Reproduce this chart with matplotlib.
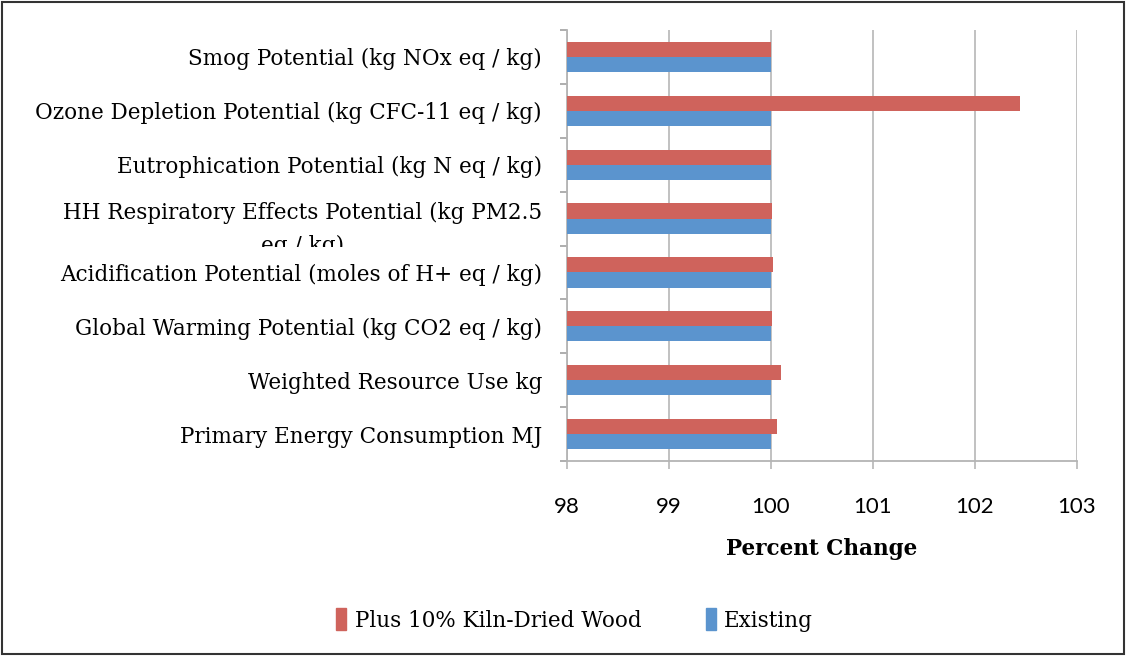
import matplotlib.pyplot as plt
import numpy as np
from matplotlib.patches import Rectangle, Patch
from matplotlib.transforms import Bbox, TransformedBbox, ScaledTranslation

plt.rcParams['font.family'] = ['DejaVu Serif']

categories = [
    "Smog Potential (kg NOx eq / kg)",
    "Ozone Depletion Potential (kg CFC-11 eq / kg)",
    "Eutrophication Potential (kg N eq / kg)",
    "HH Respiratory Effects Potential (kg PM2.5\neq / kg)",
    "Acidification Potential (moles of H+ eq / kg)",
    "Global Warming Potential (kg CO2 eq / kg)",
    "Weighted Resource Use kg",
    "Primary Energy Consumption MJ",
]
kiln_dried = [100.0, 102.44, 100.0, 100.013, 100.02, 100.013, 100.095, 100.06]
existing = [100.0, 100.0, 100.0, 100.0, 100.0, 100.0, 100.0, 100.0]
xticks = [98, 99, 100, 101, 102, 103]

red = "#CF635C"
blue = "#5B94CE"
fs = 15.5

fig = plt.figure(figsize=(11.27, 6.56), dpi=100)
ax = fig.add_axes([567 / 1127, 1 - 461 / 656, 510 / 1127, 431 / 656])

pos = np.arange(len(categories))
h = 0.28
ax.barh(pos - h / 2, np.array(kiln_dried) - 98, left=98, height=h, color=red, zorder=3)
ax.barh(pos + h / 2, np.array(existing) - 98, left=98, height=h, color=blue, zorder=3)

ax.set_xlim(98, 103)
ax.set_ylim(len(categories) - 0.5, -0.5)
ax.set_xticks(xticks)
ax.set_xticklabels([str(t) for t in xticks], fontsize=16, family='Lato')
ax.tick_params(axis='x', length=6, width=1.3, pad=20, color='#bcbcbc', direction='out')
ax.xaxis.grid(True, color='#bcbcbc', linewidth=1.3, zorder=0)

ax.set_yticks(np.arange(len(categories) + 1) - 0.5, minor=True)
ax.set_yticks(pos)
ax.set_yticklabels(categories, fontsize=fs, multialignment='center', linespacing=1.65)
ax.tick_params(axis='y', which='major', length=0, pad=18)
ax.tick_params(axis='y', which='minor', length=5, width=1.3, color='#a8a8a8')

for s in ['top', 'right']:
    ax.spines[s].set_visible(False)
for s in ['left', 'bottom']:
    ax.spines[s].set_color('#b4b4b4')
    ax.spines[s].set_linewidth(1.3)

ax.set_xlabel("Percent Change", fontsize=fs, fontweight='bold', labelpad=15)

# wrapped label sits a little low and is cut off through its second line
lbl = ax.get_yticklabels()[3]
lbl.set_transform(lbl.get_transform() + ScaledTranslation(0, -0.03, fig.dpi_scale_trans))
lbl.set_clip_on(True)
lbl.set_clip_box(TransformedBbox(Bbox([[0, 1 - 247 / 656], [1, 1]]), fig.transFigure))

handles = [Patch(color=red, label="Plus 10% Kiln-Dried Wood"),
           Patch(color=blue, label="Existing")]
fig.legend(handles=handles, loc='center', bbox_to_anchor=(0.51, 1 - 620 / 656),
           ncol=2, frameon=False, fontsize=fs, handlelength=0.45, handleheight=1.2,
           handletextpad=0.4, columnspacing=3.0)

fig.patches.append(Rectangle((0.002, 0.003), 0.995, 0.994, transform=fig.transFigure,
                             fill=False, edgecolor='#333333', linewidth=1.5))

fig.savefig("out.png", dpi=100)
